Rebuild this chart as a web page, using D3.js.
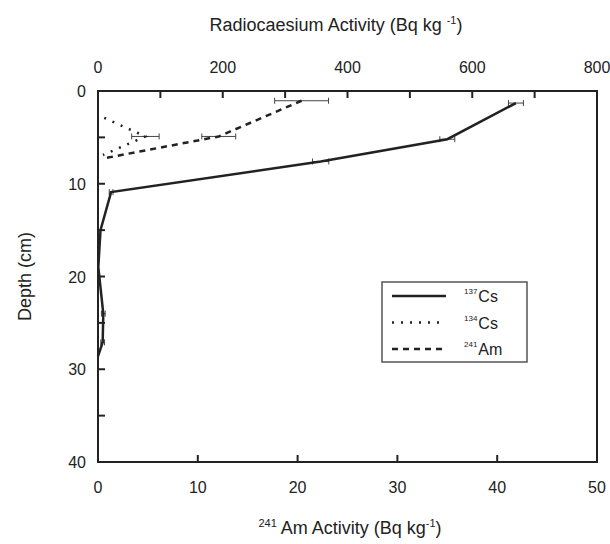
<!DOCTYPE html>
<html lang="en">
<head>
<meta charset="UTF-8">
<title>Radionuclide depth profile</title>
<script src="https://d3js.org/d3.v7.min.js"></script>
<style>
  body { margin: 0; background: #fff; }
  text { font-family: "Liberation Sans", Arial, sans-serif; fill: #222; }
</style>
</head>
<body>
<svg width="610" height="544"></svg>
<script>
// 137Cs profile (Bq/kg, top axis)
var cs137Depth = [1.3, 5.2, 7.6, 10.9, 15, 19, 24, 27.1, 28.6];
var cs137Value = [670, 560, 357, 21, 4, 0.5, 8.5, 7.5, 0];
var cs137Err   = [12, 12, 13, 3, 0, 0, 3, 3, 0];
// 134Cs profile (Bq/kg, top axis)
var cs134Depth = [2.9, 4.9, 6.9];
var cs134Value = [10, 76, 8];
var cs134Err   = [0, 22, 0];
// 241Am profile (Bq/kg, bottom axis)
var am241Depth = [1.05, 4.9, 7.3];
var am241Value = [20.4, 12.1, 0.4];
var am241Err   = [2.7, 1.7, 0];

var topTicks = [0, 200, 400, 600, 800];
var bottomTicks = [0, 10, 20, 30, 40, 50];
var depthTicks = [0, 10, 20, 30, 40];

var svg = d3.select("svg");
var pLeft = 98, pRight = 597, pTop = 91, pBottom = 462;

var xTop = d3.scaleLinear().domain([0, 800]).range([pLeft, pRight]);
var xBot = d3.scaleLinear().domain([0, 50]).range([pLeft, pRight]);
var y = d3.scaleLinear().domain([0, 40]).range([pTop, pBottom]);

var ink = "#222";

// frame
svg.append("rect")
  .attr("x", pLeft).attr("y", pTop)
  .attr("width", pRight - pLeft).attr("height", pBottom - pTop)
  .attr("fill", "none").attr("stroke", ink).attr("stroke-width", 2);

// inward ticks
svg.append("g").selectAll("line")
  .data(d3.range(100, 800, 100)).join("line")
  .attr("x1", function(d) { return xTop(d); }).attr("x2", function(d) { return xTop(d); })
  .attr("y1", pTop).attr("y2", pTop + 7)
  .attr("stroke", ink).attr("stroke-width", 2);
svg.append("g").selectAll("line")
  .data(d3.range(10, 50, 10)).join("line")
  .attr("x1", function(d) { return xBot(d); }).attr("x2", function(d) { return xBot(d); })
  .attr("y1", pBottom).attr("y2", pBottom - 7)
  .attr("stroke", ink).attr("stroke-width", 2);
svg.append("g").selectAll("line")
  .data(d3.range(5, 40, 5)).join("line")
  .attr("x1", pLeft).attr("x2", pLeft + 7)
  .attr("y1", function(d) { return y(d); }).attr("y2", function(d) { return y(d); })
  .attr("stroke", ink).attr("stroke-width", 2);

// tick labels
svg.append("g").selectAll("text")
  .data(topTicks).join("text")
  .attr("x", function(d) { return xTop(d); }).attr("y", 73)
  .attr("text-anchor", "middle").attr("font-size", 16)
  .text(function(d) { return d; });
svg.append("g").selectAll("text")
  .data(bottomTicks).join("text")
  .attr("x", function(d) { return xBot(d); }).attr("y", 493)
  .attr("text-anchor", "middle").attr("font-size", 16)
  .text(function(d) { return d; });
svg.append("g").selectAll("text")
  .data(depthTicks).join("text")
  .attr("x", 86).attr("y", function(d) { return y(d) + 6; })
  .attr("text-anchor", "end").attr("font-size", 16)
  .text(function(d) { return d; });

// axis titles
var t1 = svg.append("text").attr("x", 336).attr("y", 31)
  .attr("text-anchor", "middle").attr("font-size", 18);
t1.append("tspan").text("Radiocaesium Activity (Bq kg ");
t1.append("tspan").attr("font-size", 11).attr("dy", -7).text("-1");
t1.append("tspan").attr("dy", 7).text(")");

var t2 = svg.append("text").attr("x", 350).attr("y", 534)
  .attr("text-anchor", "middle").attr("font-size", 18);
t2.append("tspan").attr("font-size", 11).attr("dy", -7).text("241");
t2.append("tspan").attr("dy", 7).text(" Am Activity (Bq kg");
t2.append("tspan").attr("font-size", 11).attr("dy", -7).text("-1");
t2.append("tspan").attr("dy", 7).text(")");

svg.append("text")
  .attr("transform", "translate(31," + y(20) + ") rotate(-90)")
  .attr("text-anchor", "middle").attr("font-size", 18)
  .text("Depth (cm)");

// series
function drawSeries(depths, values, errs, xs, dash, width) {
  var pts = depths.map(function(d, i) { return [values[i], d, errs[i]]; });
  var line = d3.line()
    .x(function(p) { return xs(p[0]); })
    .y(function(p) { return y(p[1]); });
  var eb = svg.append("g").attr("stroke", "#444").attr("stroke-width", 1);
  pts.filter(function(p) { return p[2] > 0; }).forEach(function(p) {
    var x0 = xs(p[0] - p[2]), x1 = xs(p[0] + p[2]), yy = y(p[1]);
    eb.append("line").attr("x1", x0).attr("x2", x1).attr("y1", yy).attr("y2", yy);
    eb.append("line").attr("x1", x0).attr("x2", x0).attr("y1", yy - 3).attr("y2", yy + 3);
    eb.append("line").attr("x1", x1).attr("x2", x1).attr("y1", yy - 3).attr("y2", yy + 3);
  });
  svg.append("path").datum(pts)
    .attr("d", line)
    .attr("fill", "none").attr("stroke", ink)
    .attr("stroke-width", width)
    .attr("stroke-dasharray", dash);
}
drawSeries(cs137Depth, cs137Value, cs137Err, xTop, null, 2.5);
drawSeries(cs134Depth, cs134Value, cs134Err, xTop, "2,7", 2.5);
drawSeries(am241Depth, am241Value, am241Err, xBot, "6,5", 2.5);

// legend
var lg = svg.append("g");
lg.append("rect").attr("x", 382).attr("y", 282).attr("width", 145).attr("height", 80)
  .attr("fill", "#fff").attr("stroke", "#555").attr("stroke-width", 1.5);
var items = [
  { mass: "137", el: "Cs", dash: null },
  { mass: "134", el: "Cs", dash: "2,7" },
  { mass: "241", el: "Am", dash: "6,5" }
];
items.forEach(function(it, i) {
  var yy = 296 + i * 26.5;
  lg.append("line").attr("x1", 392).attr("x2", 446).attr("y1", yy).attr("y2", yy)
    .attr("stroke", ink).attr("stroke-width", 2.5).attr("stroke-dasharray", it.dash);
  var tx = lg.append("text").attr("x", 464).attr("y", yy + 6).attr("font-size", 16);
  tx.append("tspan").attr("font-size", 8).attr("dy", -8).text(it.mass);
  tx.append("tspan").attr("dx", 1).attr("dy", 8).text(it.el);
});
</script>
</body>
</html>
